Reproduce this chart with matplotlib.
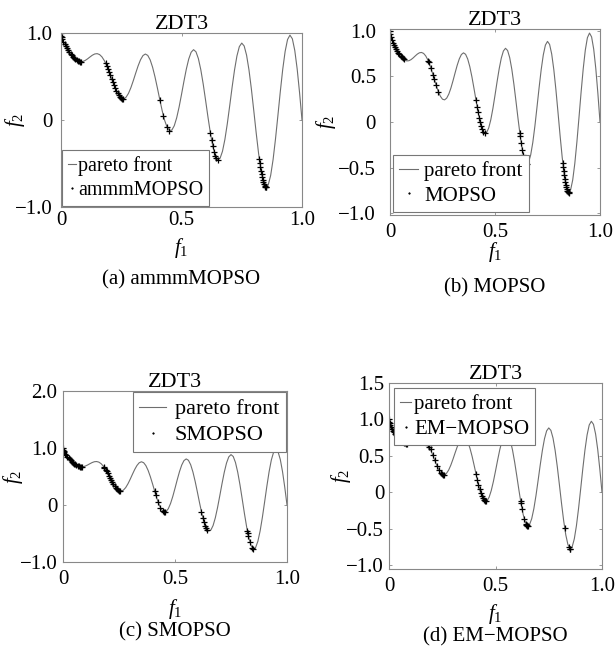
import numpy as np
import matplotlib.pyplot as plt

plt.rcParams['font.family'] = 'Liberation Serif'
plt.rcParams['mathtext.fontset'] = 'custom'
plt.rcParams['mathtext.rm'] = 'Liberation Serif'
plt.rcParams['mathtext.it'] = 'Liberation Serif:italic'
plt.rcParams['axes.unicode_minus'] = True

# ZDT3 true front, sampled every 0.01 in f1
pf_f1 = np.linspace(0, 1, 101)
pf_f2 = [1.0000, 0.8969, 0.8468, 0.8025, 0.7620, 0.7264, 0.6980, 0.6788, 0.6701, 0.6722,
         0.6838, 0.7023, 0.7241, 0.7446, 0.7590, 0.7627, 0.7522, 0.7252, 0.6815, 0.6228,
         0.5528, 0.4768, 0.4017, 0.3343, 0.2818, 0.2500, 0.2428, 0.2620, 0.3062, 0.3719,
         0.4523, 0.5390, 0.6224, 0.6925, 0.7403, 0.7584, 0.7424, 0.6910, 0.6070, 0.4960,
         0.3675, 0.2330, 0.1050, -0.0036, -0.0818, -0.1208, -0.1157, -0.0658, 0.0251, 0.1486,
         0.2929, 0.4435, 0.5846, 0.7008, 0.7788, 0.8084, 0.7843, 0.7061, 0.5793, 0.4142,
         0.2254, 0.0305, -0.1518, -0.3034, -0.4087, -0.4562, -0.4401, -0.3605, -0.2243, -0.0439,
         0.1633, 0.3768, 0.5747, 0.7362, 0.8436, 0.8840, 0.8510, 0.7454, 0.5753, 0.3553,
         0.1056, -0.1503, -0.3875, -0.5825, -0.7154, -0.7720, -0.7453, -0.6365, -0.4554, -0.2184,
         0.0513, 0.3273, 0.5816, 0.7880, 0.9245, 0.9753, 0.9333, 0.7998, 0.5861, 0.3109,
         0.0000]

# obtained solutions of each algorithm
ammm_f1 = [0.000, 0.001, 0.0025, 0.005, 0.010, 0.015, 0.020, 0.025, 0.030, 0.035, 0.040,
           0.045, 0.050, 0.055, 0.060, 0.065, 0.070, 0.075, 0.080, 0.083,
           0.185, 0.190, 0.195, 0.200, 0.205, 0.210, 0.215, 0.220, 0.225, 0.230, 0.235,
           0.240, 0.245, 0.250, 0.255, 0.258,
           0.410, 0.425, 0.440, 0.450,
           0.620, 0.625, 0.630, 0.635, 0.640, 0.645, 0.650,
           0.823, 0.825, 0.8275, 0.830, 0.8325, 0.835, 0.8375, 0.840, 0.8425, 0.845,
           0.8475, 0.850, 0.852]
ammm_f2 = [1.0000, 0.9684, 0.9498, 0.9285, 0.8969, 0.8707, 0.8468, 0.8242, 0.8025, 0.7817, 0.7620,
           0.7435, 0.7264, 0.7112, 0.6980, 0.6871, 0.6788, 0.6731, 0.6701, 0.6697,
           0.6539, 0.6228, 0.5889, 0.5528, 0.5151, 0.4768, 0.4387, 0.4017, 0.3666, 0.3343, 0.3058,
           0.2818, 0.2630, 0.2500, 0.2431, 0.2422,
           0.2330, 0.0476, -0.0818, -0.1208,
           -0.1518, -0.2325, -0.3034, -0.3627, -0.4087, -0.4402, -0.4562,
           -0.4514, -0.4917, -0.5389, -0.5825, -0.6222, -0.6578, -0.6890, -0.7154, -0.7371, -0.7538,
           -0.7655, -0.7720, -0.7733]

mopso_f1 = [0.000, 0.001, 0.005, 0.010, 0.015, 0.020, 0.025, 0.030, 0.035, 0.040, 0.045,
            0.050, 0.055, 0.060, 0.065,
            0.182, 0.185, 0.195, 0.205, 0.210, 0.220, 0.230,
            0.409, 0.415, 0.420, 0.425, 0.430, 0.435, 0.440, 0.445, 0.450,
            0.618, 0.620, 0.625, 0.630, 0.635, 0.645, 0.6525,
            0.823, 0.825, 0.8275, 0.830, 0.8325, 0.835, 0.8375, 0.840, 0.8425, 0.845,
            0.8475, 0.850, 0.852]
mopso_f2 = [1.0000, 0.9684, 0.9285, 0.8969, 0.8707, 0.8468, 0.8242, 0.8025, 0.7817, 0.7620, 0.7435,
            0.7264, 0.7112, 0.6980, 0.6871,
            0.6709, 0.6539, 0.5889, 0.5151, 0.4768, 0.4017, 0.3343,
            0.2464, 0.1674, 0.1050, 0.0476, -0.0036, -0.0471, -0.0818, -0.1066, -0.1208,
            -0.1172, -0.1518, -0.2325, -0.3034, -0.3627, -0.4402, -0.4583,
            -0.4514, -0.4917, -0.5389, -0.5825, -0.6222, -0.6578, -0.6890, -0.7154, -0.7371, -0.7538,
            -0.7655, -0.7720, -0.7733]

smopso_f1 = [0.000, 0.001, 0.0025, 0.005, 0.010, 0.015, 0.020, 0.025, 0.030, 0.035, 0.040,
             0.045, 0.050, 0.055, 0.060, 0.065, 0.070, 0.075, 0.080, 0.083,
             0.182, 0.185, 0.190, 0.195, 0.200, 0.205, 0.210, 0.215, 0.220, 0.225, 0.230,
             0.235, 0.240, 0.245, 0.250, 0.255,
             0.409, 0.415, 0.425, 0.435, 0.445, 0.450, 0.454,
             0.618, 0.625, 0.630, 0.635, 0.640, 0.645,
             0.823, 0.825, 0.8275, 0.835, 0.845, 0.850]
smopso_f2 = [1.0000, 0.9684, 0.9498, 0.9285, 0.8969, 0.8707, 0.8468, 0.8242, 0.8025, 0.7817, 0.7620,
             0.7435, 0.7264, 0.7112, 0.6980, 0.6871, 0.6788, 0.6731, 0.6701, 0.6697,
             0.6709, 0.6539, 0.6228, 0.5889, 0.5528, 0.5151, 0.4768, 0.4387, 0.4017, 0.3666, 0.3343,
             0.3058, 0.2818, 0.2630, 0.2500, 0.2431,
             0.2464, 0.1674, 0.0476, -0.0471, -0.1066, -0.1208, -0.1242,
             -0.1172, -0.2325, -0.3034, -0.3627, -0.4087, -0.4402,
             -0.4514, -0.4917, -0.5389, -0.6578, -0.7538, -0.7720]

em_f1 = [0.000, 0.001, 0.0025, 0.005, 0.010, 0.015, 0.020, 0.025, 0.030, 0.035, 0.040,
         0.045, 0.050, 0.055, 0.060, 0.065, 0.070, 0.075, 0.080, 0.083,
         0.182, 0.185, 0.190, 0.195, 0.205, 0.215, 0.225, 0.235, 0.245, 0.250, 0.255, 0.258,
         0.409, 0.415, 0.420, 0.425, 0.430, 0.435, 0.440, 0.445, 0.450, 0.454,
         0.618, 0.620, 0.625, 0.635, 0.6425, 0.645, 0.6475, 0.650, 0.6525,
         0.825, 0.845, 0.850, 0.852]
em_f2 = [1.0000, 0.9684, 0.9498, 0.9285, 0.8969, 0.8707, 0.8468, 0.8242, 0.8025, 0.7817, 0.7620,
         0.7435, 0.7264, 0.7112, 0.6980, 0.6871, 0.6788, 0.6731, 0.6701, 0.6697,
         0.6709, 0.6539, 0.6228, 0.5889, 0.5151, 0.4387, 0.3666, 0.3058, 0.2630, 0.2500, 0.2431, 0.2422,
         0.2464, 0.1674, 0.1050, 0.0476, -0.0036, -0.0471, -0.0818, -0.1066, -0.1208, -0.1242,
         -0.1172, -0.1518, -0.2325, -0.3627, -0.4264, -0.4402, -0.4502, -0.4562, -0.4583,
         -0.4917, -0.7538, -0.7720, -0.7733]

names = ['ammmMOPSO', 'MOPSO', 'SMOPSO', 'EM\u2212MOPSO']
captions = ['(a) ammmMOPSO', '(b) MOPSO', '(c) SMOPSO', '(d) EM\u2212MOPSO']
sols = [(ammm_f1, ammm_f2), (mopso_f1, mopso_f2), (smopso_f1, smopso_f2), (em_f1, em_f2)]
ylims = [(-1, 1), (-1.02, 1.02), (-1, 2), (-1.05, 1.5)]
yticks = [[-1, 0, 1], [-1, -0.5, 0, 0.5, 1], [-1, 0, 1, 2], [-1, -0.5, 0, 0.5, 1, 1.5]]
ytlabels = [['\u22121.0', '0', '1.0'],
            ['\u22121.0', '\u22120.5', '0', '0.5', '1.0'],
            ['\u22121.0', '0', '1.0', '2.0'],
            ['\u22121.0', '\u22120.5', '0', '0.5', '1.0', '1.5']]

W, H = 616, 656
# axes boxes in pixels: left, top, right, bottom
boxes = [(61, 33, 302, 207), (390, 29, 600, 215), (63, 391, 287, 562), (389, 383, 602, 569)]
leg_loc = ['lower left', 'lower left', 'upper right', 'upper left']
leg_size = [14.5, 15, 16, 15]
leg_pad = [0.05, 0.15, 0.05, 0.25]
hlen = [0.4, 0.9, 1.2, 0.5]
htpad = [0.1, 0.3, 0.4, 0.15]
xtick_pad = [3, 6, 6, 6]
ytick_pad = [6, 10, 4, 3.5]
f1_y = [248, 252, 609, 614]
f2_x = [15, 326, 13, 341]
cap_y = [280, 288, 632, 637]

fig = plt.figure(figsize=(W / 100, H / 100), dpi=100)

for i in range(4):
    l, t, r, b = boxes[i]
    ax = fig.add_axes([l / W, 1 - b / H, (r - l) / W, (b - t) / H])
    ax.plot(pf_f1, pf_f2, '-', color='#6e6e6e', lw=0.8, label='pareto front')
    ax.plot(sols[i][0], sols[i][1], '+', color='black', ms=3.8, mew=0.9, label=names[i])
    ax.set_xlim(0, 1)
    ax.set_ylim(*ylims[i])
    ax.set_xticks([0, 0.5, 1])
    ax.set_xticklabels(['0', '0.5', '1.0'])
    ax.set_yticks(yticks[i])
    ax.set_yticklabels(ytlabels[i])
    ax.tick_params(direction='in', length=2.5, width=0.6, color='#888888',
                   labelsize=15, top=True, right=True)
    ax.tick_params(axis='x', pad=xtick_pad[i])
    ax.tick_params(axis='y', pad=ytick_pad[i])
    for sp in ax.spines.values():
        sp.set_color('#888888')
        sp.set_linewidth(0.8)
    ax.set_title('ZDT3', fontsize=16, pad=3)
    leg = ax.legend(loc=leg_loc[i], fontsize=leg_size[i], frameon=True, fancybox=False,
                    edgecolor='#777777', framealpha=1, borderaxespad=leg_pad[i],
                    handlelength=hlen[i], handletextpad=htpad[i], borderpad=0.3,
                    labelspacing=0.25, numpoints=1, markerscale=0.5)
    leg.get_frame().set_linewidth(0.8)
    cx = (l + r) / 2
    fig.text(cx / W, 1 - f1_y[i] / H, '$f_1$', fontsize=15, ha='center', va='center')
    fig.text(f2_x[i] / W, 1 - (t + b) / 2 / H, '$f_2$', fontsize=15, rotation=90,
             ha='center', va='center')
    fig.text(cx / W, 1 - cap_y[i] / H, captions[i], fontsize=15, ha='center', va='center')

fig.savefig('out.png', dpi=100)
